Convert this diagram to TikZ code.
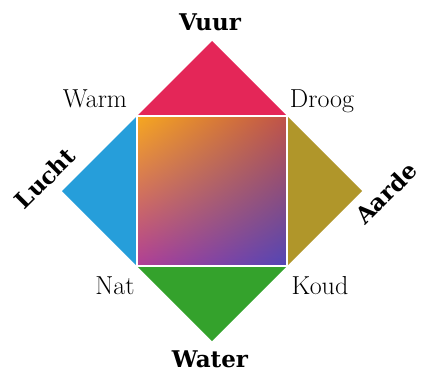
\documentclass[tikz,border=0pt]{standalone}
\usepackage{fontspec}
\usetikzlibrary{shadings}
\newfontfamily\elemfont{DejaVu Serif}
\definecolor{vuurrood}{RGB}{228,38,88}
\definecolor{luchtblauw}{RGB}{38,158,218}
\definecolor{aardeolijf}{RGB}{176,150,42}
\definecolor{watergroen}{RGB}{52,162,44}
\definecolor{hoekLB}{RGB}{246,168,32}
\definecolor{hoekRB}{RGB}{192,82,72}
\definecolor{hoekLO}{RGB}{176,62,150}
\definecolor{hoekRO}{RGB}{82,70,182}

\begin{document}
\begin{tikzpicture}[x=1pt,y=-1pt,
  element/.style={font=\elemfont\bfseries\fontsize{23}{27}\selectfont},
  kwaliteit/.style={anchor=base,font=\fontsize{26}{30}\selectfont}]
\useasboundingbox (0,0) rectangle (425,372);
% hoekpunten van de ruit
\coordinate (T) at (212,41);
\coordinate (L) at (62,191);
\coordinate (R) at (362,191);
\coordinate (B) at (212,341);
\coordinate (TL) at (137,116);
\coordinate (TR) at (287,116);
\coordinate (BL) at (137,266);
\coordinate (BR) at (287,266);
% vier driehoeken
\fill[vuurrood] (T)--(TR)--(TL)--cycle;
\fill[luchtblauw] (L)--(TL)--(BL)--cycle;
\fill[aardeolijf] (R)--(BR)--(TR)--cycle;
\fill[watergroen] (B)--(BL)--(BR)--cycle;
% middenvlak
\shade[upper left=hoekLB,upper right=hoekRB,lower left=hoekLO,lower right=hoekRO]
  (TL) rectangle (BR);
\draw[white,line width=2pt] (TL) rectangle (BR);
% elementen
\node[element,anchor=base] (vuur) at (210,30) {Vuur};
\node[element,anchor=base,inner sep=1pt] (water) at (210,367) {Water};
\node[element,rotate=45] (lucht) at (45,178) {Lucht};
\node[element,rotate=45] (aarde) at (386,193) {Aarde};
% kwaliteiten
\node[kwaliteit] (warm) at (95,107) {Warm};
\node[kwaliteit] (droog) at (322,107) {Droog};
\node[kwaliteit] (nat) at (115,294) {Nat};
\node[kwaliteit] (koud) at (320,294) {Koud};
\end{tikzpicture}
\end{document}
